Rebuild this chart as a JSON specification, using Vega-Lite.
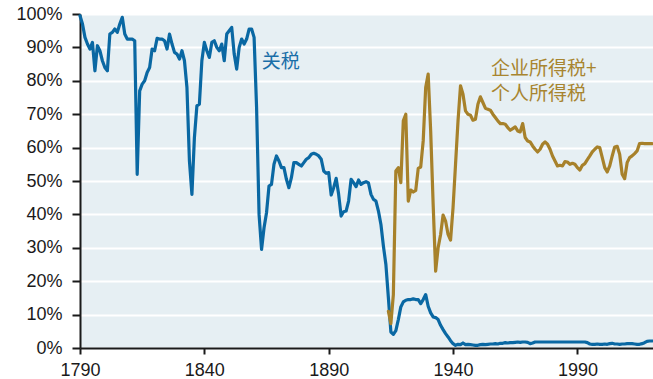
{
  "$schema": "https://vega.github.io/schema/vega-lite/v6.json",
  "width": 573,
  "height": 334,
  "autosize": {"type": "none"},
  "padding": {"left": 80, "top": 14, "right": 0, "bottom": 31},
  "background": "#ffffff",
  "config": {
    "view": {"fill": "#e6eff3", "stroke": null},
    "font": "Liberation Sans",
    "axis": {
      "labelFont": "Liberation Sans",
      "labelFontSize": 18,
      "labelColor": "#1a1a1a",
      "domainColor": "#1a1a1a",
      "domainWidth": 2,
      "tickColor": "#1a1a1a",
      "tickWidth": 2,
      "title": null
    }
  },
  "datasets": {
    "tariff": [
      {"year": 1790, "value": 99.5}, {"year": 1791, "value": 97}, {"year": 1792, "value": 93},
      {"year": 1793, "value": 91}, {"year": 1794, "value": 89.5}, {"year": 1795, "value": 91.5},
      {"year": 1796, "value": 83}, {"year": 1797, "value": 90.5}, {"year": 1798, "value": 89},
      {"year": 1799, "value": 86}, {"year": 1800, "value": 84}, {"year": 1801, "value": 83},
      {"year": 1802, "value": 94}, {"year": 1803, "value": 94.5}, {"year": 1804, "value": 95.5},
      {"year": 1805, "value": 94.5}, {"year": 1806, "value": 97}, {"year": 1807, "value": 99},
      {"year": 1808, "value": 94}, {"year": 1809, "value": 92.5}, {"year": 1810, "value": 92.5},
      {"year": 1811, "value": 92.5}, {"year": 1812, "value": 92}, {"year": 1813, "value": 52},
      {"year": 1814, "value": 77}, {"year": 1815, "value": 79}, {"year": 1816, "value": 80},
      {"year": 1817, "value": 82.5}, {"year": 1818, "value": 84}, {"year": 1819, "value": 89.5},
      {"year": 1820, "value": 89}, {"year": 1821, "value": 92.7}, {"year": 1822, "value": 92.5},
      {"year": 1823, "value": 92.5}, {"year": 1824, "value": 92}, {"year": 1825, "value": 89.5},
      {"year": 1826, "value": 94}, {"year": 1827, "value": 91}, {"year": 1828, "value": 88.5},
      {"year": 1829, "value": 88}, {"year": 1830, "value": 86.5}, {"year": 1831, "value": 89},
      {"year": 1832, "value": 86}, {"year": 1833, "value": 78}, {"year": 1834, "value": 56},
      {"year": 1835, "value": 46}, {"year": 1836, "value": 63}, {"year": 1837, "value": 72.5},
      {"year": 1838, "value": 73}, {"year": 1839, "value": 86}, {"year": 1840, "value": 91.5},
      {"year": 1841, "value": 89}, {"year": 1842, "value": 87}, {"year": 1843, "value": 91.5},
      {"year": 1844, "value": 92}, {"year": 1845, "value": 90}, {"year": 1846, "value": 89},
      {"year": 1847, "value": 91}, {"year": 1848, "value": 86}, {"year": 1849, "value": 94},
      {"year": 1850, "value": 95}, {"year": 1851, "value": 96}, {"year": 1852, "value": 88},
      {"year": 1853, "value": 83.5}, {"year": 1854, "value": 90}, {"year": 1855, "value": 92.5},
      {"year": 1856, "value": 91}, {"year": 1857, "value": 92.5}, {"year": 1858, "value": 95.5},
      {"year": 1859, "value": 95.5}, {"year": 1860, "value": 93}, {"year": 1861, "value": 72},
      {"year": 1862, "value": 40}, {"year": 1863, "value": 29.5}, {"year": 1864, "value": 36},
      {"year": 1865, "value": 40.5}, {"year": 1866, "value": 48.5}, {"year": 1867, "value": 49},
      {"year": 1868, "value": 55}, {"year": 1869, "value": 57.5}, {"year": 1870, "value": 56},
      {"year": 1871, "value": 54}, {"year": 1872, "value": 54}, {"year": 1873, "value": 50.5},
      {"year": 1874, "value": 48}, {"year": 1875, "value": 51}, {"year": 1876, "value": 55.5},
      {"year": 1877, "value": 55.5}, {"year": 1878, "value": 55}, {"year": 1879, "value": 54.5},
      {"year": 1880, "value": 55.5}, {"year": 1881, "value": 56.5}, {"year": 1882, "value": 57},
      {"year": 1883, "value": 58}, {"year": 1884, "value": 58.3}, {"year": 1885, "value": 58},
      {"year": 1886, "value": 57.5}, {"year": 1887, "value": 56.5}, {"year": 1888, "value": 53},
      {"year": 1889, "value": 52.3}, {"year": 1890, "value": 52.5}, {"year": 1891, "value": 45.8},
      {"year": 1892, "value": 48}, {"year": 1893, "value": 50.8}, {"year": 1894, "value": 46},
      {"year": 1895, "value": 39.5}, {"year": 1896, "value": 40.8}, {"year": 1897, "value": 41},
      {"year": 1898, "value": 44}, {"year": 1899, "value": 50.5}, {"year": 1900, "value": 49.5},
      {"year": 1901, "value": 48.3}, {"year": 1902, "value": 50.3}, {"year": 1903, "value": 49},
      {"year": 1904, "value": 49.5}, {"year": 1905, "value": 49.8}, {"year": 1906, "value": 49.4},
      {"year": 1907, "value": 46}, {"year": 1908, "value": 44.5}, {"year": 1909, "value": 44},
      {"year": 1910, "value": 41}, {"year": 1911, "value": 37}, {"year": 1912, "value": 30.5},
      {"year": 1913, "value": 25}, {"year": 1914, "value": 15}, {"year": 1915, "value": 4.8},
      {"year": 1916, "value": 4.1}, {"year": 1917, "value": 5.2}, {"year": 1918, "value": 8.5},
      {"year": 1919, "value": 12.3}, {"year": 1920, "value": 13.8}, {"year": 1921, "value": 14.3},
      {"year": 1922, "value": 14.5}, {"year": 1923, "value": 14.5}, {"year": 1924, "value": 14.7},
      {"year": 1925, "value": 14.5}, {"year": 1926, "value": 14.5}, {"year": 1927, "value": 13.3},
      {"year": 1928, "value": 14.5}, {"year": 1929, "value": 16}, {"year": 1930, "value": 12.5},
      {"year": 1931, "value": 10.5}, {"year": 1932, "value": 9.3}, {"year": 1933, "value": 9.1},
      {"year": 1934, "value": 8.5}, {"year": 1935, "value": 6.8}, {"year": 1936, "value": 5.5},
      {"year": 1937, "value": 4.3}, {"year": 1938, "value": 3.3}, {"year": 1939, "value": 2.2},
      {"year": 1940, "value": 1.3}, {"year": 1941, "value": 0.8}, {"year": 1942, "value": 1.1},
      {"year": 1943, "value": 1.0}, {"year": 1944, "value": 1.5}, {"year": 1945, "value": 1.0},
      {"year": 1946, "value": 1.1}, {"year": 1947, "value": 1.0}, {"year": 1948, "value": 0.9},
      {"year": 1949, "value": 0.8}, {"year": 1950, "value": 0.8}, {"year": 1951, "value": 1.0},
      {"year": 1952, "value": 1.1}, {"year": 1953, "value": 1.0}, {"year": 1954, "value": 1.1},
      {"year": 1955, "value": 1.2}, {"year": 1956, "value": 1.2}, {"year": 1957, "value": 1.3},
      {"year": 1958, "value": 1.2}, {"year": 1959, "value": 1.4}, {"year": 1960, "value": 1.4},
      {"year": 1961, "value": 1.6}, {"year": 1962, "value": 1.5}, {"year": 1963, "value": 1.6},
      {"year": 1964, "value": 1.6}, {"year": 1965, "value": 1.7}, {"year": 1966, "value": 1.8},
      {"year": 1967, "value": 1.7}, {"year": 1968, "value": 1.8}, {"year": 1969, "value": 1.8},
      {"year": 1970, "value": 1.7}, {"year": 1971, "value": 1.3}, {"year": 1972, "value": 1.5},
      {"year": 1973, "value": 1.8}, {"year": 1974, "value": 1.8}, {"year": 1975, "value": 1.8},
      {"year": 1976, "value": 1.8}, {"year": 1977, "value": 1.8}, {"year": 1978, "value": 1.8},
      {"year": 1979, "value": 1.8}, {"year": 1980, "value": 1.8}, {"year": 1981, "value": 1.8},
      {"year": 1982, "value": 1.8}, {"year": 1983, "value": 1.8}, {"year": 1984, "value": 1.8},
      {"year": 1985, "value": 1.8}, {"year": 1986, "value": 1.8}, {"year": 1987, "value": 1.8},
      {"year": 1988, "value": 1.8}, {"year": 1989, "value": 1.8}, {"year": 1990, "value": 1.8},
      {"year": 1991, "value": 1.8}, {"year": 1992, "value": 1.8}, {"year": 1993, "value": 1.8},
      {"year": 1994, "value": 1.6}, {"year": 1995, "value": 1.2}, {"year": 1996, "value": 1.1},
      {"year": 1997, "value": 1.1}, {"year": 1998, "value": 1.2}, {"year": 1999, "value": 1.1},
      {"year": 2000, "value": 1.1}, {"year": 2001, "value": 1.2}, {"year": 2002, "value": 1.1},
      {"year": 2003, "value": 1.3}, {"year": 2004, "value": 1.4}, {"year": 2005, "value": 1.2},
      {"year": 2006, "value": 1.2}, {"year": 2007, "value": 1.1}, {"year": 2008, "value": 1.2},
      {"year": 2009, "value": 1.2}, {"year": 2010, "value": 1.3}, {"year": 2011, "value": 1.3},
      {"year": 2012, "value": 1.3}, {"year": 2013, "value": 1.2}, {"year": 2014, "value": 1.1},
      {"year": 2015, "value": 1.1}, {"year": 2016, "value": 1.3}, {"year": 2017, "value": 1.6},
      {"year": 2018, "value": 2.0}, {"year": 2019, "value": 2.1}, {"year": 2020, "value": 2.1}
    ],
    "income": [
      {"year": 1914, "value": 11}, {"year": 1915, "value": 7.3}, {"year": 1916, "value": 16},
      {"year": 1917, "value": 53}, {"year": 1918, "value": 54}, {"year": 1919, "value": 49.5},
      {"year": 1920, "value": 68}, {"year": 1921, "value": 70}, {"year": 1922, "value": 44},
      {"year": 1923, "value": 47.3}, {"year": 1924, "value": 46.7}, {"year": 1925, "value": 47.2},
      {"year": 1926, "value": 53.8}, {"year": 1927, "value": 54.2}, {"year": 1928, "value": 62},
      {"year": 1929, "value": 78}, {"year": 1930, "value": 82}, {"year": 1931, "value": 65},
      {"year": 1932, "value": 43}, {"year": 1933, "value": 23}, {"year": 1934, "value": 30},
      {"year": 1935, "value": 34}, {"year": 1936, "value": 39.8}, {"year": 1937, "value": 38},
      {"year": 1938, "value": 34}, {"year": 1939, "value": 32.3}, {"year": 1940, "value": 42},
      {"year": 1941, "value": 55}, {"year": 1942, "value": 68}, {"year": 1943, "value": 78.5},
      {"year": 1944, "value": 76}, {"year": 1945, "value": 71}, {"year": 1946, "value": 70},
      {"year": 1947, "value": 69.7}, {"year": 1948, "value": 68.2}, {"year": 1949, "value": 68.5},
      {"year": 1950, "value": 73}, {"year": 1951, "value": 75.2}, {"year": 1952, "value": 73.5},
      {"year": 1953, "value": 71.8}, {"year": 1954, "value": 71.5}, {"year": 1955, "value": 71.2},
      {"year": 1956, "value": 70}, {"year": 1957, "value": 69}, {"year": 1958, "value": 68},
      {"year": 1959, "value": 67.2}, {"year": 1960, "value": 67.2}, {"year": 1961, "value": 67},
      {"year": 1962, "value": 66}, {"year": 1963, "value": 65.2}, {"year": 1964, "value": 65.7},
      {"year": 1965, "value": 66.2}, {"year": 1966, "value": 65}, {"year": 1967, "value": 64.7},
      {"year": 1968, "value": 67.2}, {"year": 1969, "value": 63}, {"year": 1970, "value": 62},
      {"year": 1971, "value": 61.7}, {"year": 1972, "value": 60.5}, {"year": 1973, "value": 59.5},
      {"year": 1974, "value": 58.7}, {"year": 1975, "value": 59.5}, {"year": 1976, "value": 61},
      {"year": 1977, "value": 61.7}, {"year": 1978, "value": 61}, {"year": 1979, "value": 59.5},
      {"year": 1980, "value": 57.5}, {"year": 1981, "value": 56}, {"year": 1982, "value": 54.5},
      {"year": 1983, "value": 54.7}, {"year": 1984, "value": 54.5}, {"year": 1985, "value": 55.8},
      {"year": 1986, "value": 55.7}, {"year": 1987, "value": 55}, {"year": 1988, "value": 55.3},
      {"year": 1989, "value": 55}, {"year": 1990, "value": 54}, {"year": 1991, "value": 53.3},
      {"year": 1992, "value": 54.7}, {"year": 1993, "value": 55.2}, {"year": 1994, "value": 56.4},
      {"year": 1995, "value": 57.5}, {"year": 1996, "value": 58.7}, {"year": 1997, "value": 59.5},
      {"year": 1998, "value": 60.2}, {"year": 1999, "value": 60}, {"year": 2000, "value": 57},
      {"year": 2001, "value": 54}, {"year": 2002, "value": 52.7}, {"year": 2003, "value": 54.5},
      {"year": 2004, "value": 57.5}, {"year": 2005, "value": 60.2}, {"year": 2006, "value": 60.4},
      {"year": 2007, "value": 58}, {"year": 2008, "value": 52}, {"year": 2009, "value": 50.7},
      {"year": 2010, "value": 55.5}, {"year": 2011, "value": 57}, {"year": 2012, "value": 57.5},
      {"year": 2013, "value": 58.2}, {"year": 2014, "value": 59}, {"year": 2015, "value": 61.2},
      {"year": 2016, "value": 61.3}, {"year": 2017, "value": 61.2}, {"year": 2018, "value": 61.2},
      {"year": 2019, "value": 61.2}, {"year": 2020, "value": 61.2}
    ],
    "labels": [
      {"year": 1863.1, "value": 85.5, "text": ["关税"], "series": "tariff"},
      {"year": 1955.3, "value": 83.4, "text": ["企业所得税+", "个人所得税"], "series": "income"}
    ]
  },
  "encoding": {
    "x": {
      "field": "year",
      "type": "quantitative",
      "scale": {"domain": [1790, 2020.4], "nice": false, "zero": false},
      "axis": {
        "values": [1790, 1840, 1890, 1940, 1990],
        "format": "d",
        "grid": false,
        "tickSize": 6,
        "labelPadding": 7,
        "labelFlush": false,
        "labelOverlap": false
      }
    },
    "y": {
      "field": "value",
      "type": "quantitative",
      "scale": {"domain": [0, 100], "nice": false},
      "axis": {
        "values": [0, 10, 20, 30, 40, 50, 60, 70, 80, 90, 100],
        "labelExpr": "datum.value + '%'",
        "grid": true,
        "gridColor": "#ffffff",
        "gridWidth": 2,
        "tickSize": 8,
        "labelPadding": 10,
        "labelOverlap": false
      }
    }
  },
  "layer": [
    {
      "data": {"name": "tariff"},
      "mark": {"type": "line", "color": "#0a68a3", "strokeWidth": 3.2, "strokeJoin": "round", "strokeCap": "round"}
    },
    {
      "data": {"name": "income"},
      "mark": {"type": "line", "color": "#a7812a", "strokeWidth": 3.2, "strokeJoin": "round", "strokeCap": "round"}
    },
    {
      "data": {"name": "labels"},
      "mark": {"type": "text", "align": "left", "baseline": "middle", "font": "Noto Sans CJK SC", "fontSize": 19, "lineHeight": 25},
      "encoding": {
        "text": {"field": "text"},
        "color": {
          "field": "series",
          "type": "nominal",
          "scale": {"domain": ["tariff", "income"], "range": ["#1a6ea8", "#a8852f"]},
          "legend": null
        }
      }
    }
  ]
}
